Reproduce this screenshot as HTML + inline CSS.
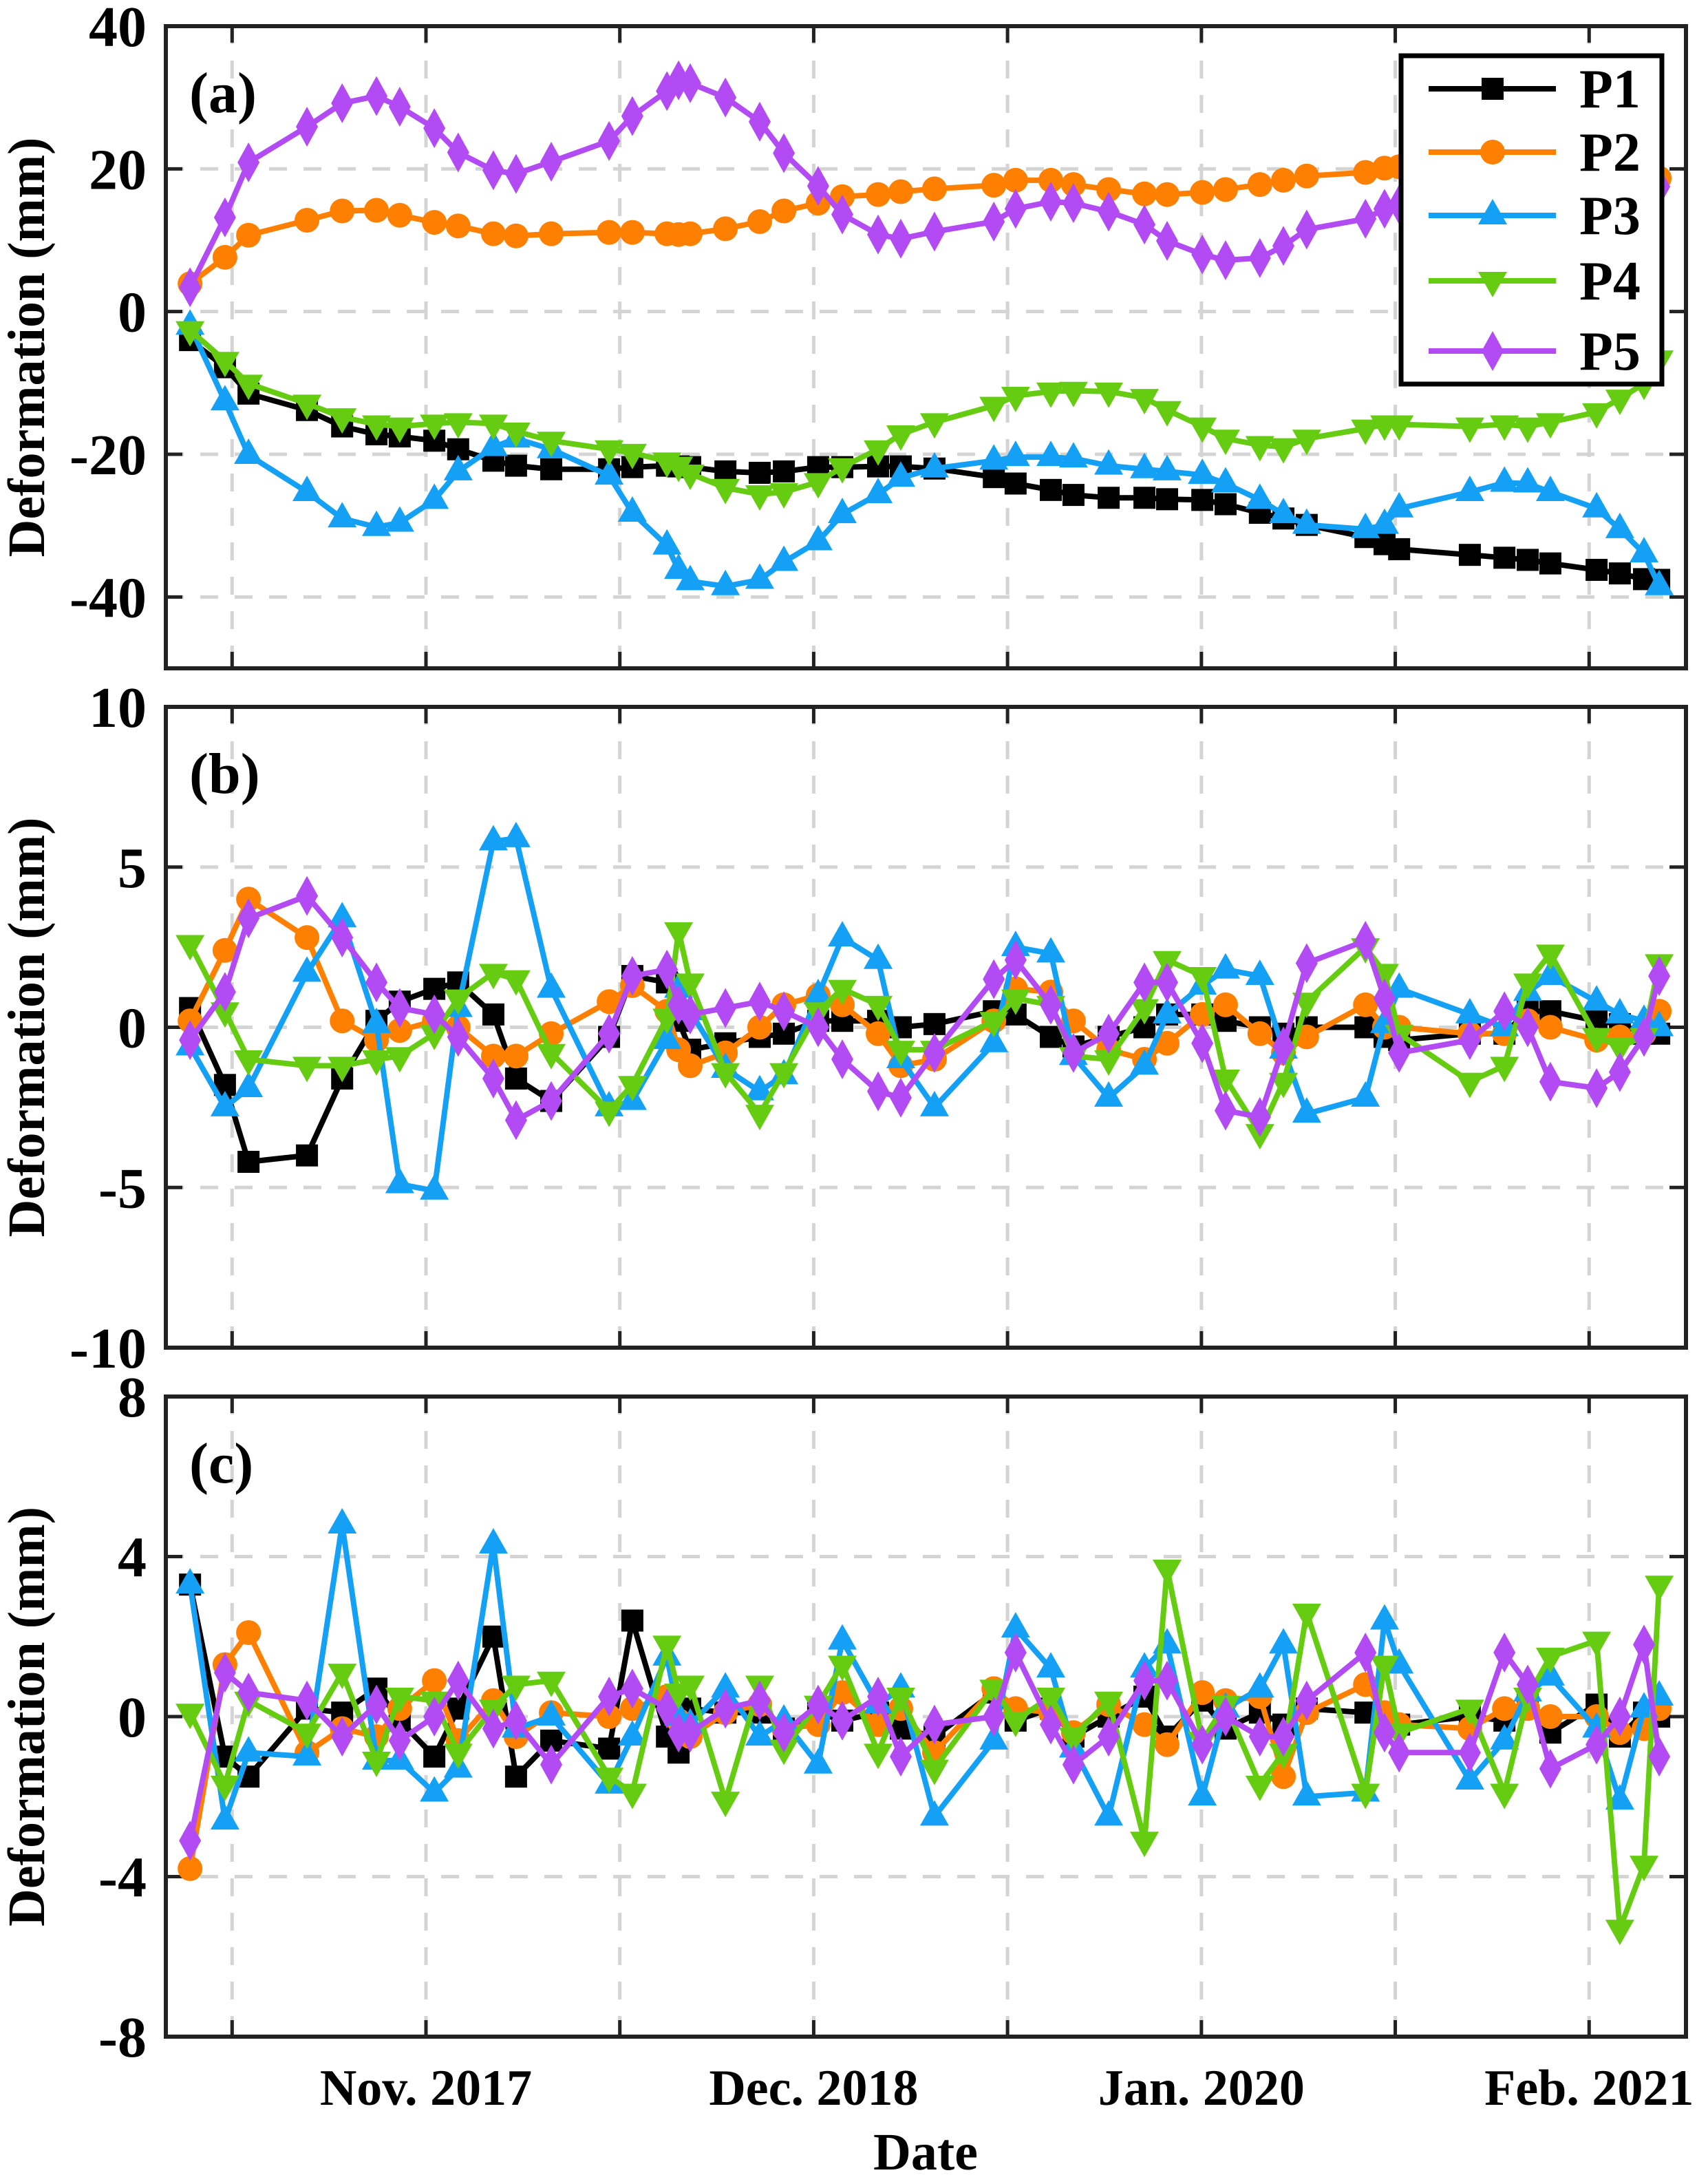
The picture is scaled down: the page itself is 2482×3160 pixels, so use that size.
<!DOCTYPE html>
<html><head><meta charset="utf-8">
<style>
html,body{margin:0;padding:0;background:#fff;}
svg{display:block;font-family:"Liberation Serif",serif;font-weight:bold;}
</style></head>
<body>
<svg id="chart" width="2482" height="3160" viewBox="0 0 2482 3160" xmlns="http://www.w3.org/2000/svg">
<rect x="0" y="0" width="2482" height="3160" fill="#fff"/>
</svg>
<script>
// acquisition dates in months since Jan 2017
const dates = [2.09,3.26,4.05,6.01,7.19,8.34,9.12,10.28,11.08,12.26,13.02,14.20,16.14,16.92,18.08,18.47,18.86,20.04,21.19,22.00,23.15,23.96,25.16,25.92,27.05,29.04,29.77,30.95,31.71,32.89,34.09,34.85,36.03,36.81,37.96,38.75,39.53,41.50,42.14,42.63,45.00,46.16,46.94,47.70,49.25,50.03,50.84,51.35];
const xTickMonths = [3.5,10,16.5,23,29.5,36,42.5,49];
const xTickLabels = ["","Nov. 2017","","Dec. 2018","","Jan. 2020","","Feb. 2021"];
const seriesNames = ["P1","P2","P3","P4","P5"];

const a_P1 = [-4.0,-7.8,-11.5,-13.8,-16.1,-17.2,-17.5,-18.1,-19.3,-20.9,-21.6,-22.1,-22.1,-21.8,-21.6,-21.7,-21.8,-22.4,-22.6,-22.4,-21.8,-21.8,-21.7,-21.7,-22.0,-23.2,-24.1,-25.0,-25.7,-26.1,-26.1,-26.3,-26.4,-27.0,-28.2,-29.0,-29.9,-31.6,-32.6,-33.3,-34.1,-34.5,-34.8,-35.3,-36.2,-36.7,-37.5,-37.6];
const a_P2 = [3.9,7.6,10.7,12.8,14.1,14.2,13.5,12.5,12.0,10.9,10.6,10.9,11.1,11.1,10.9,10.8,10.9,11.6,12.6,14.1,15.2,16.1,16.4,16.8,17.2,17.7,18.4,18.4,17.8,17.1,16.5,16.4,16.7,17.1,17.8,18.4,19.0,19.5,20.1,20.3,20.3,20.5,20.5,20.5,20.0,19.5,19.0,18.7];
const a_P3 = [-2.0,-12.6,-20.1,-25.3,-29.0,-30.2,-29.6,-26.4,-22.4,-19.0,-17.8,-19.3,-23.0,-28.2,-32.8,-36.2,-37.8,-38.5,-37.6,-35.1,-32.2,-28.4,-25.6,-23.3,-22.0,-20.9,-20.4,-20.4,-20.6,-21.6,-22.1,-22.4,-22.9,-24.1,-26.4,-28.4,-29.9,-30.5,-29.9,-27.6,-25.3,-24.0,-24.1,-25.3,-27.6,-30.5,-33.9,-38.5];
const a_P4 = [-2.6,-6.9,-10.1,-12.9,-14.8,-15.8,-16.1,-15.7,-15.5,-15.7,-16.8,-18.1,-19.3,-19.8,-21.0,-21.6,-22.7,-24.7,-25.6,-25.3,-23.9,-21.8,-19.3,-17.2,-15.5,-13.2,-11.8,-11.2,-11.1,-11.2,-12.1,-13.8,-16.1,-17.8,-18.7,-19.0,-17.8,-16.4,-15.8,-15.8,-16.1,-15.8,-16.1,-15.5,-14.1,-12.2,-10.1,-6.7];
const a_P5 = [3.4,13.2,20.9,25.9,29.2,30.2,28.7,25.7,22.3,19.8,19.3,21.0,23.9,27.4,30.9,32.4,32.0,30.0,26.6,22.2,17.6,13.6,10.8,10.2,11.2,12.6,14.4,15.4,15.2,14.0,12.2,9.9,8.0,7.2,7.5,9.2,11.5,13.0,14.4,15.0,16.0,16.5,17.0,17.0,17.5,18.0,18.2,17.5];

const b_P1 = [0.6,-1.8,-4.2,-4.0,-1.6,0.2,0.8,1.2,1.4,0.4,-1.6,-2.3,-0.3,1.6,1.4,0.2,-0.7,-0.5,-0.3,-0.2,0.2,0.2,0.2,0,0.1,0.5,0.4,-0.3,-0.6,-0.3,0,0.4,0.4,0.2,0,-0.2,0,0,-0.3,-0.4,-0.2,-0.2,0.5,0.5,0.2,0.1,-0.2,-0.2];
const b_P2 = [0.2,2.4,4.0,2.8,0.2,-0.4,-0.1,0.2,0,-0.9,-0.9,-0.2,0.8,1.3,0.5,-0.7,-1.2,-0.8,0,0.7,1.0,0.7,-0.2,-1.2,-1.0,0.2,1.2,1.1,0.2,-0.7,-1.0,-0.5,0.4,0.7,-0.2,-0.8,-0.3,0.7,0,0,-0.2,-0.2,0.2,0,-0.4,-0.3,-0.2,0.5];
const b_P3 = [-0.6,-2.5,-1.9,1.7,3.4,0.1,-4.9,-5.1,0.6,5.8,5.9,1.2,-2.5,-2.3,-0.4,1.2,0.5,-1.3,-2.0,-1.5,1.0,2.8,2.1,-1.0,-2.5,-0.5,2.5,2.3,-0.9,-2.2,-1.2,0.4,1.3,1.8,1.6,-0.7,-2.7,-2.2,0.1,1.2,0.4,0,1.1,1.6,0.8,0.4,0.2,0];
const b_P4 = [2.6,0.5,-1.0,-1.2,-1.2,-1.0,-0.9,-0.2,0.9,1.7,1.5,-0.8,-2.6,-1.8,0.3,3.0,1.4,-1.4,-2.7,-1.4,0.5,1.2,0.7,-0.7,-0.7,0.2,0.9,0.7,-0.9,-1.0,0.6,2.1,1.6,-1.6,-3.3,-1.7,0.8,2.5,1.7,-0.2,-1.7,-1.2,1.4,2.3,-0.3,-0.6,-0.3,2.0];
const b_P5 = [-0.4,1.1,3.4,4.1,2.8,1.4,0.6,0.4,-0.3,-1.6,-2.9,-2.3,-0.2,1.6,1.8,0.7,0.4,0.6,0.8,0.5,0,-1.0,-2.0,-2.2,-0.8,1.5,2.1,0.7,-0.8,-0.2,1.4,1.4,-0.5,-2.6,-2.8,-0.6,2.0,2.7,0.9,-0.8,-0.4,0.5,0,-1.7,-1.9,-1.4,-0.3,1.6];

const c_P1 = [3.3,-1.0,-1.5,0.2,0.1,0.7,-0.1,-1.0,0.2,2.0,-1.5,-0.6,-0.8,2.4,-0.5,-0.9,0.2,0.1,0.1,-0.3,0.1,-0.1,0.1,-0.3,-0.5,0.6,-0.1,0.2,-0.5,0,0.5,-0.5,0.4,-0.3,0.1,-0.2,0.2,0.1,0,-0.2,0,-0.1,0.4,-0.4,0.3,-0.5,0.1,0];
const c_P2 = [-3.8,1.3,2.1,-0.9,-0.3,-0.5,0.2,0.9,-0.6,0.4,-0.5,0.1,0,0.2,0.5,-0.1,-0.5,0.1,0.3,-0.3,-0.2,0.6,-0.2,0.2,-0.9,0.7,0.2,0.1,-0.4,0.3,-0.2,-0.7,0.6,0.4,0.5,-1.5,0.1,0.8,0.1,-0.2,-0.3,0.2,0.2,0,0,-0.4,-0.3,0.2];
const c_P3 = [3.3,-2.6,-0.9,-1.0,4.8,-1.1,-1.1,-1.9,-1.3,4.3,-0.3,0,-1.7,-0.5,1.5,0,-0.2,0.7,-0.5,-0.1,-1.2,1.9,0.3,0.7,-2.5,-0.6,2.2,1.2,-0.8,-2.5,1.2,1.8,-2.0,0.2,0.7,1.8,-2.0,-1.9,2.4,1.3,-1.6,-0.6,0.6,1.0,-0.3,-2.1,0.2,0.5];
const c_P4 = [0.1,-1.7,0.4,-0.4,1.1,-1.1,0.5,0.4,-0.9,0.2,0.8,0.9,-1.5,-1.9,1.8,0.6,0.8,-2.1,0.8,-0.8,0.3,1.3,-0.9,0.5,-1.3,0.7,-0.1,0.5,-0.5,0.4,-3.1,3.7,-0.6,0.3,-1.7,-0.9,2.6,-1.9,1.3,-0.4,0.2,-1.9,0.5,1.5,1.9,-5.3,-3.7,3.3];
const c_P5 = [-3.1,1.1,0.6,0.4,-0.5,0.3,-0.6,0,0.9,-0.3,-0.1,-1.2,0.5,0.7,0.2,-0.4,-0.4,0.2,0.4,-0.4,0.3,-0.1,0.5,-1.0,-0.2,0,1.6,-0.2,-1.2,-0.5,0.9,0.9,-0.7,0,-0.5,-0.5,0.4,1.6,-0.4,-0.9,-0.9,1.6,0.8,-1.3,-0.7,0,1.8,-1.0];

const a_ticks = [40,20,0,-20,-40];
const b_ticks = [10,5,0,-5,-10];
const c_ticks = [8,4,0,-4,-8];

const NS = "http://www.w3.org/2000/svg";
const svg = document.getElementById("chart");
const colors = ["#000000","#ff8000","#14a0f5","#66cc11","#b34bf5"];
const markers = ["square","circle","tri-up","tri-down","diamond"];
const X0 = 241, X1 = 2450;
function xScale(m){ return 619 + (m - 10) * 43.34; }

function el(tag, attrs, parent){
  const e = document.createElementNS(NS, tag);
  for (const k in attrs) e.setAttribute(k, attrs[k]);
  (parent || svg).appendChild(e);
  return e;
}
function marker(g, type, x, y, c){
  let e;
  if (type === "square") e = el("rect", {x:x-16, y:y-16, width:32, height:32, fill:c}, g);
  else if (type === "circle") e = el("circle", {cx:x, cy:y, r:18, fill:c}, g);
  else if (type === "tri-up") e = el("polygon", {points:`${x},${y-24} ${x+21},${y+13} ${x-21},${y+13}`, fill:c}, g);
  else if (type === "tri-down") e = el("polygon", {points:`${x},${y+24} ${x+21},${y-13} ${x-21},${y-13}`, fill:c}, g);
  else e = el("polygon", {points:`${x},${y-29} ${x+16},${y} ${x},${y+29} ${x-16},${y}`, fill:c}, g);
  return e;
}

function panel(key, top, bottom, vmax, vmin, ticks, series, label){
  const yScale = v => top + (vmax - v) / (vmax - vmin) * (bottom - top);
  const g = el("g", {});
  
  
  ticks.forEach(t => {
    if (t === vmax || t === vmin) return;
    const gl = el("line", {x1:X0, x2:X1, y1:yScale(t), y2:yScale(t), stroke:"#d4d4d4", "stroke-width":5, "stroke-dasharray":"26 24"}, g);
    
    
  });
  xTickMonths.forEach(m => {
    const gl = el("line", {x1:xScale(m), x2:xScale(m), y1:top, y2:bottom, stroke:"#d4d4d4", "stroke-width":5, "stroke-dasharray":"26 24"}, g);
    
    
  });
  ticks.forEach(t => {
    const y = yScale(t);
    el("line", {x1:X0, x2:X0+24, y1:y, y2:y, stroke:"#222", "stroke-width":5}, g);
    el("line", {x1:X1-24, x2:X1, y1:y, y2:y, stroke:"#222", "stroke-width":5}, g);
    const tl = el("text", {x:X0-28, y:y+29, "text-anchor":"end", "font-size":84, fill:"#000"}, g);
    tl.textContent = t < 0 ? "-" + Math.abs(t) : String(t);
    
    
  });
  xTickMonths.forEach(m => {
    const x = xScale(m);
    el("line", {x1:x, x2:x, y1:top, y2:top+24, stroke:"#222", "stroke-width":5}, g);
    el("line", {x1:x, x2:x, y1:bottom-24, y2:bottom, stroke:"#222", "stroke-width":5}, g);
  });
  series.forEach((vals, si) => {
    const sg = el("g", {}, g);
    
    
    const pts = vals.map((v, i) => xScale(dates[i]).toFixed(1) + "," + yScale(v).toFixed(1)).join(" ");
    el("polyline", {points:pts, fill:"none", stroke:colors[si], "stroke-width":8, "stroke-linejoin":"round"}, sg);
    vals.forEach((v, i) => {
      const mk = marker(sg, markers[si], xScale(dates[i]), yScale(v), colors[si]);
      
      
    });
  });
  const fr = el("rect", {x:X0, y:top, width:X1-X0, height:bottom-top, fill:"none", stroke:"#222", "stroke-width":6}, g);
  
  
  const pl = el("text", {x:275, y:top+125, "font-size":84, fill:"#000"}, g);
  pl.textContent = label;
  
  
  const yl = el("text", {x:0, y:0, "font-size":76, "text-anchor":"middle", fill:"#000", transform:`translate(64,${(top+bottom)/2}) rotate(-90)`}, g);
  yl.textContent = "Deformation (mm)";
  
  
}

panel("a", 38, 971, 40, -50, a_ticks, [a_P1,a_P2,a_P3,a_P4,a_P5], "(a)");
panel("b", 1027, 1958, 10, -10, b_ticks, [b_P1,b_P2,b_P3,b_P4,b_P5], "(b)");
panel("c", 2029, 2959, 8, -8, c_ticks, [c_P1,c_P2,c_P3,c_P4,c_P5], "(c)");

xTickMonths.forEach((m, i) => {
  if (!xTickLabels[i]) return;
  const t = el("text", {x:xScale(m), y:3058, "text-anchor":"middle", "font-size":74, fill:"#000"});
  t.textContent = xTickLabels[i];
  
  
});
const xt = el("text", {x:1345, y:3152, "text-anchor":"middle", "font-size":76, fill:"#000"});
xt.textContent = "Date";



const lg = el("g", {});


el("rect", {x:2036, y:81, width:379, height:477, fill:"#fff", stroke:"#000", "stroke-width":7}, lg);
const legY = [129, 221, 313, 408, 510];
seriesNames.forEach((n, i) => {
  const eg = el("g", {}, lg);
  
  
  el("line", {x1:2076, x2:2261, y1:legY[i], y2:legY[i], stroke:colors[i], "stroke-width":8}, eg);
  marker(eg, markers[i], 2169, legY[i], colors[i]);
  const t = el("text", {x:2295, y:legY[i]+27, "font-size":80, fill:"#000"}, eg);
  t.textContent = n;
});
</script>
</body></html>
